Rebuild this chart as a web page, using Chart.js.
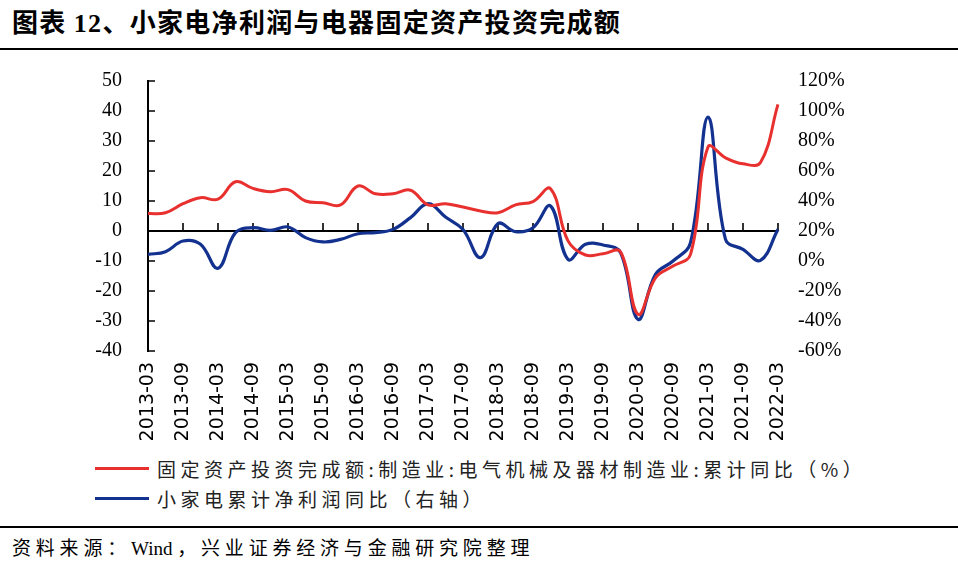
<!DOCTYPE html>
<html><head><meta charset="utf-8">
<script src="https://cdn.jsdelivr.net/npm/chart.js@4.4.1/dist/chart.umd.min.js"></script>
<style>
html,body{margin:0;padding:0;background:#fff;width:958px;height:565px;overflow:hidden;position:relative;font-family:"Noto Sans CJK SC",sans-serif;color:#000;}
#title{position:absolute;left:12px;top:4px;font-size:26px;font-weight:700;letter-spacing:1.3px;white-space:nowrap;line-height:34px;}
.serif{font-family:"Liberation Serif",serif;}
.rule{position:absolute;left:0;width:958px;height:2px;background:#000;}
#wrap{position:absolute;left:0;top:0;width:958px;height:450px;}
#legend{position:absolute;left:95px;top:453px;}
.item{display:flex;align-items:center;height:30px;font-size:19px;letter-spacing:4.5px;color:#222;white-space:nowrap;}
.sw{width:54px;height:3px;margin-right:8px;flex:none;}
#source{position:absolute;left:12px;top:534px;font-size:19px;letter-spacing:4.8px;white-space:nowrap;line-height:26px;}
#source .serif{letter-spacing:0;margin-right:4.8px;}
</style></head>
<body>
<div id="title">图表 <span class="serif">12</span>、小家电净利润与电器固定资产投资完成额</div>
<div class="rule" style="top:48px"></div>
<div id="wrap"><canvas id="c" width="958" height="450"></canvas></div>
<div id="legend">
  <div class="item"><span class="sw" style="background:#E8312F"></span><span id="lg1"></span></div>
  <div class="item"><span class="sw" style="background:#13318F"></span><span id="lg2"></span></div>
</div>
<div class="rule" style="top:526px"></div>
<div id="source">资料来源：<span class="serif">Wind</span>，兴业证券经济与金融研究院整理</div>
<script>
const categories = ['2013-03','2013-06','2013-09','2013-12','2014-03','2014-06','2014-09','2014-12',
  '2015-03','2015-06','2015-09','2015-12','2016-03','2016-06','2016-09','2016-12',
  '2017-03','2017-06','2017-09','2017-12','2018-03','2018-06','2018-09','2018-12',
  '2019-03','2019-06','2019-09','2019-12','2020-03','2020-06','2020-09','2020-12',
  '2021-03','2021-06','2021-09','2021-12','2022-03'];
const seriesNames = ['固定资产投资完成额:制造业:电气机械及器材制造业:累计同比（%）','小家电累计净利润同比（右轴）'];
const investYoY = [5.8,6.1,9.1,11.1,10.6,16.4,14.2,13.1,13.8,10.0,9.4,8.7,15.0,12.4,12.4,13.6,
  8.7,9.1,8.0,6.7,6.1,8.7,9.8,14.1,-3.3,-8.0,-7.6,-6.9,-27.8,-15.6,-11.7,-7.8,28.0,24.4,22.4,22.8,42.2];
const profitYoY = [4.4,6.2,13.3,11.1,-4.9,18.9,22.2,20.4,22.7,15.6,12.7,14.4,18.2,18.9,21.1,28.9,
  38.2,29.3,21.0,2.2,24.9,19.6,22.2,36.7,1.1,11.1,10.7,5.6,-38.9,-8.9,0,12.2,96,14.4,7.8,0.4,21.1];
const leftTicks = {min:-40, max:50, step:10};
const rightTicks = {min:-60, max:120, step:20};

document.getElementById('lg1').textContent = seriesNames[0];
document.getElementById('lg2').textContent = seriesNames[1];

const axisDeco = {
  id:'axisDeco',
  beforeDatasetsDraw(chart){
    const {ctx, chartArea:a, scales:{x, y}} = chart;
    const y0 = y.getPixelForValue(0);
    ctx.save();
    ctx.strokeStyle = '#000';
    ctx.lineWidth = 2;
    ctx.beginPath(); ctx.moveTo(a.left, y0); ctx.lineTo(a.right, y0); ctx.stroke();
    ctx.lineWidth = 1.6;
    ctx.beginPath();
    x.ticks.forEach((t,i)=>{ if(i%2) return; const px = x.getPixelForTick(i); ctx.moveTo(px, y0); ctx.lineTo(px, y0-8); });
    y.ticks.forEach((t,i)=>{ const py = y.getPixelForTick(i); ctx.moveTo(a.left, py); ctx.lineTo(a.left+7, py); });
    ctx.stroke();
    ctx.restore();
  }
};

new Chart(document.getElementById('c'), {
  type:'line',
  data:{
    labels: categories,
    datasets:[
      {label:seriesNames[0], data:investYoY, yAxisID:'y', borderColor:'#E8312F', borderWidth:3, pointRadius:0, tension:0.4, fill:false},
      {label:seriesNames[1], data:profitYoY, yAxisID:'y1', borderColor:'#13318F', borderWidth:3.2, pointRadius:0, tension:0.4, fill:false}
    ]
  },
  options:{
    responsive:false, animation:false,
    layout:{padding:{left:0,right:0,top:81,bottom:0}},
    plugins:{legend:{display:false}, tooltip:{enabled:false}},
    scales:{
      x:{
        grid:{display:false, drawTicks:false}, border:{display:false},
        ticks:{autoSkip:false, maxRotation:90, minRotation:90, padding:11, color:'#000',
          font:{family:'DejaVu Sans', size:19},
          callback(v,i){ return i%2===0 ? categories[i] : ''; }},
        afterFit(s){ s.height = 99; }
      },
      y:{
        position:'left', min:leftTicks.min, max:leftTicks.max,
        grid:{display:false, drawTicks:false}, border:{display:true, color:'#000', width:2},
        ticks:{stepSize:leftTicks.step, padding:26, color:'#000', font:{family:'Liberation Serif', size:20}},
        afterFit(s){ s.width = 148; }
      },
      y1:{
        position:'right', min:rightTicks.min, max:rightTicks.max,
        grid:{display:false, drawTicks:false}, border:{display:false},
        ticks:{stepSize:rightTicks.step, padding:20, color:'#000', font:{family:'Liberation Serif', size:20},
          callback(v){ return v + '%'; }},
        afterFit(s){ s.width = 180; }
      }
    }
  },
  plugins:[axisDeco]
});
</script>
</body></html>
